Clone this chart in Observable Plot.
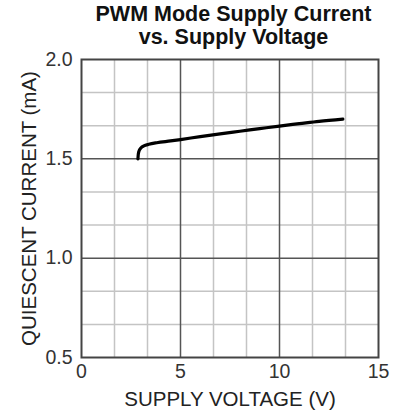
<!DOCTYPE html>
<html>
<head>
<meta charset="utf-8">
<script src="https://cdn.jsdelivr.net/npm/d3@7"></script>
<script src="https://cdn.jsdelivr.net/npm/@observablehq/plot@0.6"></script>
<style>
  body { margin: 0; background: #fff; }
  #wrap { position: relative; width: 407px; height: 412px; font-family: "Liberation Sans", Arial, sans-serif; }
  .title { position: absolute; left: 60px; width: 347px; text-align: center; font-weight: bold; font-size: 21.5px; line-height: 22px; color: #111; }
</style>
</head>
<body>
<div id="wrap">
  <div class="title" style="top:3px">PWM Mode Supply Current</div>
  <div class="title" style="top:26px">vs. Supply Voltage</div>
</div>
<script>
const titleLines = ["PWM Mode Supply Current", "vs. Supply Voltage"];
const xLabel = "SUPPLY VOLTAGE (V)";
const yLabel = "QUIESCENT CURRENT (mA)";
const xTicks = [0, 5, 10, 15];
const yTicks = [0.5, 1.0, 1.5, 2.0];
const xMajorGrid = [5, 10];
const yMajorGrid = [1.0, 1.5];
const xMinorGrid = d3.range(1, 9).map(i => i * 15 / 9).filter(v => Math.abs(v - 5) > 1e-6 && Math.abs(v - 10) > 1e-6);
const yMinorGrid = d3.range(1, 9).map(i => 0.5 + i * 1.5 / 9).filter(v => Math.abs(v - 1) > 1e-6 && Math.abs(v - 1.5) > 1e-6);

const voltage = [2.85, 2.87, 2.92, 3.0, 3.15, 3.4, 3.8, 4.5, 5.0, 6.0, 7.0, 8.0, 9.0, 10.0, 11.0, 12.0, 13.2];
const current = [1.50, 1.525, 1.543, 1.555, 1.565, 1.573, 1.581, 1.590, 1.597, 1.612, 1.626, 1.639, 1.652, 1.665, 1.677, 1.689, 1.70];
const data = voltage.map((v, i) => ({v, c: current[i]}));

const chart = Plot.plot({
  width: 407,
  height: 412,
  marginLeft: 81,
  marginRight: 29,
  marginTop: 59,
  marginBottom: 55,
  style: {fontFamily: "Liberation Sans, Arial, sans-serif", background: "transparent", color: "#222"},
  x: {domain: [0, 15]},
  y: {domain: [0.5, 2.0]},
  marks: [
    Plot.gridX(xMinorGrid, {stroke: "#c4c4c4", strokeOpacity: 1, strokeWidth: 1.5}),
    Plot.gridY(yMinorGrid, {stroke: "#c4c4c4", strokeOpacity: 1, strokeWidth: 1.5}),
    Plot.gridX(xMajorGrid, {stroke: "#555", strokeOpacity: 1, strokeWidth: 1.5}),
    Plot.gridY(yMajorGrid, {stroke: "#555", strokeOpacity: 1, strokeWidth: 1.5}),
    Plot.frame({stroke: "#444", strokeWidth: 2}),
    Plot.axisX(xTicks, {tickSize: 0, tickPadding: 7, fontSize: 19.5, label: null, fill: "#333"}),
    Plot.axisY(yTicks, {tickSize: 0, tickPadding: 9, fontSize: 19.5, tickFormat: d3.format(".1f"), label: null, fill: "#333"}),
    Plot.text([xLabel], {frameAnchor: "bottom", dy: 48, fontSize: 20.5, fill: "#222", text: d => d}),
    Plot.text([yLabel], {frameAnchor: "left", textAnchor: "middle", dx: -52, rotate: -90, fontSize: 20.5, fill: "#222", text: d => d}),
    Plot.line(data, {x: "v", y: "c", stroke: "#000", strokeWidth: 3.2, curve: "monotone-x"})
  ]
});
document.getElementById("wrap").appendChild(chart);
chart.style.position = "absolute";
chart.style.left = "0";
chart.style.top = "0";
</script>
</body>
</html>
